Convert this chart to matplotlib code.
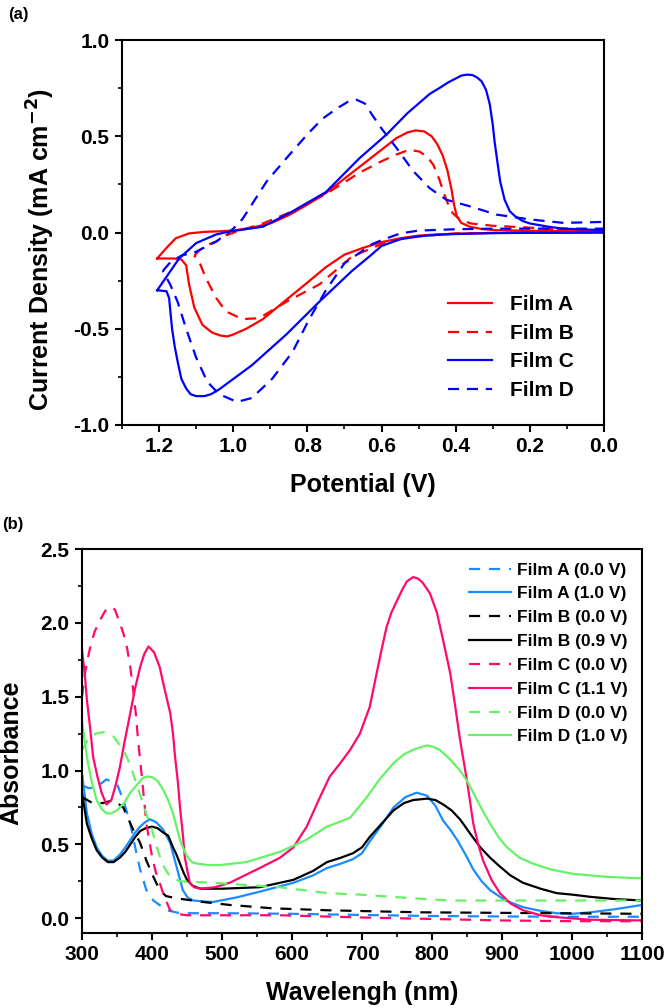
import matplotlib
matplotlib.use("Agg")
import matplotlib.pyplot as plt
from matplotlib.ticker import MultipleLocator

plt.rcParams['font.family'] = ['Liberation Sans', 'DejaVu Sans']
plt.rcParams['font.weight'] = 'bold'

# ---------------- Panel (a): cyclic voltammograms ----------------
film_a_v = [1.205, 1.18, 1.155, 1.12, 1.08, 1.04, 1.0, 0.95, 0.9, 0.85, 0.8, 0.75, 0.72, 0.68, 0.64, 0.6,
            0.56, 0.53, 0.508, 0.485, 0.465, 0.45, 0.435, 0.422, 0.411, 0.404, 0.397, 0.385, 0.362, 0.33,
            0.29, 0.2, 0.1, 0.0,
            0.0, 0.1, 0.2, 0.3, 0.4, 0.45, 0.5, 0.55, 0.6, 0.65, 0.7, 0.75, 0.8, 0.857, 0.92, 0.965, 1.0,
            1.016, 1.035, 1.057, 1.083, 1.105, 1.119, 1.127, 1.14, 1.16, 1.173, 1.19, 1.205]
film_a_j = [-0.135, -0.08, -0.03, -0.005, 0.003, 0.006, 0.01, 0.025, 0.047, 0.09, 0.145, 0.205, 0.25, 0.31,
            0.37, 0.43, 0.49, 0.52, 0.53, 0.525, 0.5, 0.46, 0.4, 0.32, 0.22, 0.14, 0.085, 0.05, 0.03, 0.018,
            0.012, 0.009, 0.008, 0.008,
            0.0, 0.0, -0.001, -0.003, -0.006, -0.01, -0.016, -0.03, -0.05, -0.08, -0.115, -0.18, -0.26,
            -0.35, -0.45, -0.5, -0.53, -0.54, -0.535, -0.52, -0.48, -0.39, -0.27, -0.17, -0.14, -0.135,
            -0.135, -0.135, -0.135]

film_b_v = [1.105, 1.09, 1.07, 1.046, 1.02, 0.99, 0.92, 0.84, 0.75, 0.66, 0.6, 0.56, 0.525, 0.497, 0.475,
            0.46, 0.445, 0.43, 0.418, 0.408, 0.39, 0.36, 0.3, 0.245, 0.11, 0.0,
            0.0, 0.3, 0.4, 0.5, 0.55, 0.6, 0.68, 0.768, 0.857, 0.93, 0.975, 1.02, 1.046, 1.073, 1.09, 1.105]
film_b_j = [-0.12, -0.09, -0.065, -0.047, -0.015, 0.005, 0.047, 0.11, 0.2, 0.31, 0.37, 0.405, 0.43, 0.42,
            0.39, 0.35, 0.28, 0.195, 0.135, 0.1, 0.07, 0.047, 0.035, 0.03, 0.015, 0.01,
            0.0, -0.002, -0.005, -0.02, -0.035, -0.06, -0.125, -0.27, -0.36, -0.445, -0.45, -0.41, -0.34,
            -0.24, -0.16, -0.12]

film_c_v = [1.205, 1.18, 1.146, 1.1, 1.046, 1.01, 0.92, 0.84, 0.75, 0.66, 0.586, 0.53, 0.47, 0.44, 0.42,
            0.40, 0.385, 0.37, 0.355, 0.342, 0.33, 0.318, 0.308, 0.3, 0.295, 0.287, 0.28, 0.268, 0.254,
            0.24, 0.22, 0.2, 0.15, 0.11, 0.0,
            0.0, 0.3, 0.4, 0.45, 0.5, 0.55, 0.6, 0.63, 0.68, 0.768, 0.857, 0.95, 1.038, 1.06, 1.078, 1.1,
            1.115, 1.127, 1.14, 1.15, 1.158, 1.165, 1.173, 1.18, 1.205]
film_c_j = [-0.3, -0.23, -0.135, -0.055, -0.01, 0.005, 0.03, 0.11, 0.21, 0.385, 0.51, 0.62, 0.72, 0.755,
            0.78, 0.80, 0.815, 0.82, 0.818, 0.805, 0.785, 0.74, 0.665, 0.56, 0.47, 0.36, 0.265, 0.17,
            0.11, 0.085, 0.06, 0.047, 0.03, 0.02, 0.012,
            0.0, -0.003, -0.008, -0.012, -0.02, -0.035, -0.07, -0.12, -0.2, -0.36, -0.53, -0.69, -0.815,
            -0.84, -0.85, -0.85, -0.84, -0.81, -0.76, -0.67, -0.59, -0.5, -0.34, -0.305, -0.3]

film_d_v = [1.19, 1.17, 1.14, 1.1, 1.07, 1.046, 1.02, 1.0, 0.975, 0.95, 0.91, 0.857, 0.8, 0.76, 0.72, 0.69,
            0.668, 0.645, 0.625, 0.6, 0.56, 0.515, 0.47, 0.425, 0.36, 0.29, 0.2, 0.11, 0.0,
            0.0, 0.3, 0.4, 0.5, 0.55, 0.6, 0.625, 0.7, 0.75, 0.795, 0.84, 0.895, 0.95, 0.99, 1.038, 1.07,
            1.1, 1.127, 1.15, 1.17, 1.19]
film_d_j = [-0.2, -0.155, -0.12, -0.1, -0.07, -0.047, -0.01, 0.02, 0.07, 0.145, 0.265, 0.385, 0.51, 0.59,
            0.645, 0.68, 0.69, 0.67, 0.61, 0.54, 0.44, 0.32, 0.23, 0.17, 0.135, 0.093, 0.068, 0.05, 0.055,
            0.02, 0.02, 0.017, 0.01, -0.005, -0.04, -0.06, -0.16, -0.3, -0.45, -0.62, -0.76, -0.86, -0.88,
            -0.84, -0.775, -0.65, -0.5, -0.36, -0.27, -0.2]

cv_labels = ['Film A', 'Film B', 'Film C', 'Film D']

# ---------------- Panel (b): absorbance spectra ----------------
a0_wl = [300, 310, 321, 335, 350, 359, 369, 376, 383, 392, 402, 421, 440, 500, 600, 700, 800, 900, 1000, 1100]
a0_ab = [0.90, 0.88, 0.89, 0.94, 0.91, 0.80, 0.64, 0.48, 0.33, 0.19, 0.12, 0.054, 0.034, 0.034, 0.03,
         0.022, 0.015, 0.012, 0.01, 0.01]
a1_wl = [300, 307, 314, 321, 329, 337, 345, 354, 362, 369, 376, 383, 390, 397, 406, 416, 426, 435, 444,
         451, 459, 470, 487, 520, 554, 602, 630, 650, 670, 687, 700, 711, 728, 745, 762, 778, 793, 805,
         816, 826, 836, 848, 859, 871, 883, 905, 930, 955, 978, 1000, 1026, 1060, 1100]
a1_ab = [0.98, 0.71, 0.57, 0.48, 0.42, 0.39, 0.39, 0.43, 0.48, 0.53, 0.58, 0.62, 0.65, 0.67, 0.65, 0.60,
         0.51, 0.35, 0.19, 0.14, 0.12, 0.115, 0.11, 0.14, 0.18, 0.24, 0.29, 0.34, 0.37, 0.40, 0.44, 0.52,
         0.63, 0.75, 0.82, 0.85, 0.83, 0.76, 0.66, 0.60, 0.53, 0.43, 0.33, 0.25, 0.19, 0.12, 0.075,
         0.05, 0.034, 0.03, 0.04, 0.06, 0.09]
b0_wl = [300, 315, 330, 345, 359, 373, 383, 392, 402, 411, 420, 435, 473, 511, 573, 650, 783, 978, 1100]
b0_ab = [0.82, 0.78, 0.78, 0.80, 0.75, 0.60, 0.51, 0.39, 0.28, 0.19, 0.15, 0.135, 0.11, 0.09, 0.067, 0.054,
         0.04, 0.034, 0.03]
b9_wl = [300, 307, 314, 321, 329, 337, 345, 354, 362, 369, 376, 383, 391, 400, 408, 416, 423, 430, 435,
         440, 445, 450, 458, 469, 500, 554, 602, 630, 650, 670, 687, 700, 711, 728, 745, 760, 773, 793,
         805, 816, 828, 840, 855, 869, 883, 897, 912, 930, 955, 978, 1000, 1026, 1060, 1100]
b9_ab = [0.85, 0.64, 0.54, 0.46, 0.41, 0.38, 0.38, 0.41, 0.45, 0.50, 0.55, 0.59, 0.61, 0.62, 0.61, 0.58,
         0.56, 0.48, 0.43, 0.37, 0.31, 0.26, 0.22, 0.20, 0.20, 0.21, 0.26, 0.32, 0.38, 0.41, 0.44, 0.48,
         0.55, 0.64, 0.73, 0.78, 0.80, 0.81, 0.80, 0.77, 0.73, 0.67, 0.57, 0.48, 0.41, 0.35, 0.29,
         0.24, 0.20, 0.17, 0.16, 0.145, 0.13, 0.12]
c0_wl = [300, 305, 311, 318, 326, 333, 340, 347, 354, 359, 364, 369, 373, 377, 380, 385, 392, 400, 405,
         411, 418, 426, 435, 450, 583, 700, 800, 900, 1000, 1100]
c0_ab = [1.50, 1.68, 1.82, 1.94, 2.02, 2.08, 2.11, 2.09, 2.00, 1.93, 1.84, 1.70, 1.55, 1.38, 1.21, 0.98,
         0.64, 0.42, 0.32, 0.24, 0.14, 0.054, 0.03, 0.02, 0.02, 0.005, -0.005, -0.015, -0.02, -0.02]
c1_wl = [300, 304, 307, 312, 316, 322, 328, 335, 342, 348, 354, 361, 369, 376, 383, 389, 395, 403, 411,
         418, 426, 430, 433, 437, 440, 444, 447, 451, 454, 460, 469, 490, 511, 554, 583, 602, 621, 640,
         654, 669, 683, 697, 711, 721, 728, 735, 742, 750, 757, 764, 773, 780, 787, 797, 807, 816, 826,
         833, 840, 850, 859, 866, 873, 885, 897, 912, 930, 955, 978, 1026, 1100]
c1_ab = [1.82, 1.65, 1.48, 1.27, 1.09, 0.96, 0.85, 0.77, 0.80, 0.90, 1.02, 1.20, 1.39, 1.56, 1.70, 1.79,
         1.84, 1.80, 1.70, 1.55, 1.39, 1.25, 1.09, 0.92, 0.75, 0.57, 0.41, 0.31, 0.24, 0.21, 0.20, 0.21,
         0.24, 0.34, 0.41, 0.48, 0.62, 0.82, 0.96, 1.05, 1.14, 1.25, 1.43, 1.66, 1.82, 1.97, 2.07, 2.15,
         2.22, 2.28, 2.31, 2.30, 2.27, 2.20, 2.07, 1.88, 1.66, 1.44, 1.21, 0.93, 0.64, 0.50, 0.39, 0.26,
         0.17, 0.10, 0.054, 0.02, 0.007, -0.01, -0.015]
d0_wl = [300, 311, 320, 330, 345, 359, 366, 373, 380, 387, 393, 400, 405, 411, 418, 426, 440, 487, 583,
         650, 697, 773, 826, 900, 1100]
d0_ab = [1.14, 1.23, 1.25, 1.26, 1.23, 1.14, 1.07, 0.98, 0.88, 0.78, 0.69, 0.60, 0.51, 0.42, 0.34, 0.28,
         0.25, 0.24, 0.21, 0.17, 0.16, 0.135, 0.12, 0.12, 0.12]
d1_wl = [300, 307, 314, 321, 328, 335, 342, 350, 360, 369, 378, 387, 393, 400, 408, 416, 423, 430, 435,
         440, 445, 450, 457, 464, 480, 497, 535, 583, 620, 650, 683, 707, 725, 745, 760, 773, 785, 793,
         802, 811, 825, 840, 850, 859, 871, 883, 895, 907, 925, 944, 970, 1002, 1050, 1100]
d1_ab = [1.34, 1.09, 0.92, 0.80, 0.74, 0.71, 0.71, 0.73, 0.78, 0.85, 0.90, 0.95, 0.96, 0.955, 0.93, 0.87,
         0.80, 0.71, 0.62, 0.53, 0.47, 0.42, 0.38, 0.37, 0.36, 0.36, 0.38, 0.45, 0.53, 0.62, 0.68, 0.82,
         0.94, 1.05, 1.11, 1.14, 1.16, 1.17, 1.16, 1.14, 1.08, 1.0, 0.93, 0.85, 0.74, 0.64, 0.55, 0.48,
         0.41, 0.37, 0.33, 0.30, 0.28, 0.27]

spec_labels = ['Film A (0.0 V)', 'Film A (1.0 V)', 'Film B (0.0 V)', 'Film B (0.9 V)',
               'Film C (0.0 V)', 'Film C (1.1 V)', 'Film D (0.0 V)', 'Film D (1.0 V)']

fig = plt.figure(figsize=(6.66, 10.08), dpi=100)

W, H = 666, 1008
def rect(l, t, r, b):
    return [l / W, 1 - b / H, (r - l) / W, (b - t) / H]

def style_axes(ax):
    for s in ax.spines.values():
        s.set_linewidth(1.5)
    ax.tick_params(which='major', direction='out', length=5, width=1.5, labelsize=15,
                   top=False, right=False, pad=4)
    ax.tick_params(which='minor', direction='out', length=3, width=1.2, top=False, right=False)
    for lab in ax.get_xticklabels() + ax.get_yticklabels():
        lab.set_fontweight('bold')

# Panel (a)
ax1 = fig.add_axes(rect(122, 40, 604, 425))
red, blue = '#ff0000', '#0000ff'
dash = (5, 3.5)
ax1.plot(film_a_v, film_a_j, color=red, lw=1.6, label=cv_labels[0])
ax1.plot(film_b_v, film_b_j, color=red, lw=1.6, ls=(0, dash), label=cv_labels[1])
ax1.plot(film_c_v, film_c_j, color=blue, lw=1.6, label=cv_labels[2])
ax1.plot(film_d_v, film_d_j, color=blue, lw=1.6, ls=(0, dash), label=cv_labels[3])
ax1.set_xlim(1.3, 0.0)
ax1.set_ylim(-1.0, 1.0)
ax1.xaxis.set_minor_locator(MultipleLocator(0.1))
ax1.yaxis.set_minor_locator(MultipleLocator(0.25))
ax1.set_xticks([1.2, 1.0, 0.8, 0.6, 0.4, 0.2, 0.0])
ax1.set_xticklabels(['1.2', '1.0', '0.8', '0.6', '0.4', '0.2', '0.0'])
ax1.set_yticks([-1.0, -0.5, 0.0, 0.5, 1.0])
ax1.set_yticklabels(['-1.0', '-0.5', '0.0', '0.5', '1.0'])
style_axes(ax1)
ax1.set_xlabel('Potential (V)', fontsize=18, fontweight='bold')
ax1.set_ylabel('Current Density (mA cm$^{\\mathbf{-2}}$)', fontsize=18, fontweight='bold')
ax1.xaxis.set_label_coords(0.5, -0.125)
ax1.yaxis.set_label_coords(-0.135, 0.455)
leg1 = ax1.legend(loc='upper left', bbox_to_anchor=(0.676, 0.337), frameon=False, fontsize=15,
                  handlelength=2.1, handletextpad=0.9, labelspacing=0.46, borderpad=0, borderaxespad=0)
for t in leg1.get_texts():
    t.set_fontweight('bold')
fig.text(8 / W, 1 - 15 / H, '(a)', fontsize=12, fontweight='bold', va='center', ha='left')

# Panel (b)
ax2 = fig.add_axes(rect(82, 549, 642, 933))
cb, ck, cp, cg = '#1a8cff', '#000000', '#ff0a6c', '#66f266'
d2 = (5, 4)
ax2.plot(a0_wl, a0_ab, color=cb, lw=1.6, ls=(0, d2), label=spec_labels[0])
ax2.plot(a1_wl, a1_ab, color=cb, lw=1.6, label=spec_labels[1])
ax2.plot(b0_wl, b0_ab, color=ck, lw=1.6, ls=(0, d2), label=spec_labels[2])
ax2.plot(b9_wl, b9_ab, color=ck, lw=1.6, label=spec_labels[3])
ax2.plot(c0_wl, c0_ab, color=cp, lw=1.6, ls=(0, d2), label=spec_labels[4])
ax2.plot(c1_wl, c1_ab, color=cp, lw=1.6, label=spec_labels[5])
ax2.plot(d0_wl, d0_ab, color=cg, lw=1.6, ls=(0, d2), label=spec_labels[6])
ax2.plot(d1_wl, d1_ab, color=cg, lw=1.6, label=spec_labels[7])
ax2.set_xlim(300, 1100)
ax2.set_ylim(-0.1, 2.5)
ax2.xaxis.set_major_locator(MultipleLocator(100))
ax2.xaxis.set_minor_locator(MultipleLocator(50))
ax2.yaxis.set_major_locator(MultipleLocator(0.5))
ax2.yaxis.set_minor_locator(MultipleLocator(0.25))
style_axes(ax2)
ax2.set_xlabel('Wavelengh (nm)', fontsize=18, fontweight='bold')
ax2.set_ylabel('Absorbance', fontsize=18, fontweight='bold')
ax2.xaxis.set_label_coords(0.5, -0.125)
ax2.yaxis.set_label_coords(-0.104, 0.47)
leg2 = ax2.legend(loc='upper left', bbox_to_anchor=(0.691, 0.965), frameon=False, fontsize=12.5,
                  handlelength=2.4, handletextpad=0.35, labelspacing=0.5, borderpad=0, borderaxespad=0)
for t in leg2.get_texts():
    t.set_fontweight('bold')
fig.text(2 / W, 1 - 524 / H, '(b)', fontsize=12, fontweight='bold', va='center', ha='left')

fig.savefig('out.png', dpi=100)
